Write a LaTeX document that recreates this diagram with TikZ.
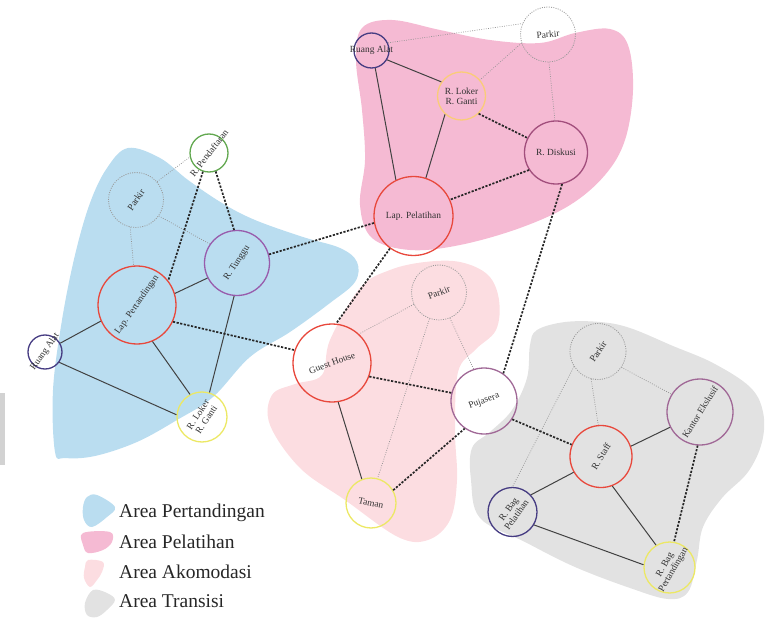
\documentclass[tikz,border=0pt]{standalone}
\usepackage{fontspec}
\setmainfont{Liberation Serif}
\definecolor{zoneblue}{RGB}{186,221,240}
\definecolor{zonepink}{RGB}{245,186,211}
\definecolor{zonerose}{RGB}{252,221,225}
\definecolor{zonegray}{RGB}{226,226,226}
\definecolor{cred}{RGB}{232,72,60}
\definecolor{cpurple}{RGB}{152,92,172}
\definecolor{cnavy}{RGB}{70,60,130}
\definecolor{cgreen}{RGB}{98,168,80}
\definecolor{cyellow}{RGB}{236,232,100}
\definecolor{corange}{RGB}{250,204,120}
\definecolor{cplum}{RGB}{162,78,124}
\definecolor{cmauve}{RGB}{160,104,150}
\definecolor{labelgray}{RGB}{50,50,50}
\definecolor{linkgray}{RGB}{65,65,65}
\begin{document}
\begin{tikzpicture}[x=1pt,y=-1pt,
  room/.style={circle, draw, line width=1.3pt, minimum size=#1, inner sep=0pt},
  parkir/.style={room=#1, draw=gray!80, line width=0.8pt, dash pattern=on 1pt off 1.3pt},
  lbl/.style={font=\fontsize{9.4}{9.8}\selectfont, text=labelgray, align=center, inner sep=0pt},
  solidlink/.style={draw=linkgray, line width=1pt},
  dashlink/.style={draw=black!85, line width=1.7pt, dash pattern=on 2.2pt off 1.5pt},
  dotlink/.style={draw=gray!85, line width=0.7pt, dash pattern=on 0.8pt off 1.5pt},
  legendtext/.style={font=\fontsize{19.5}{20}\selectfont, text=black!85, anchor=base west, inner sep=0pt}]
\useasboundingbox (0,0) rectangle (776,628);

% zones
\fill[zoneblue] plot[smooth cycle, tension=0.6] coordinates {
  (55,452) (53,390) (62,320) (75,255) (90,203) (107,168) (128,148) (160,158)
  (188,180) (222,203) (255,220) (303,237) (340,248) (357,262) (355,282)
  (330,303) (290,332) (250,357) (213,397) (177,420) (137,442) (95,456) (65,458)};
\fill[zonepink] plot[smooth cycle, tension=0.6] coordinates {
  (362,28) (392,20) (440,30) (490,40) (540,43) (575,33) (610,29) (628,45)
  (633,90) (625,140) (605,175) (570,205) (520,228) (460,245) (410,250)
  (372,238) (360,205) (365,160) (362,110) (356,60)};
\fill[zonerose] plot[smooth cycle, tension=0.6] coordinates {
  (360,288) (390,270) (425,262) (460,262) (488,275) (499,300) (496,330)
  (475,350) (458,372) (455,430) (457,480) (450,520) (428,540) (398,537)
  (345,500) (300,468) (270,425) (272,395) (295,384) (322,375) (330,340)};
\fill[zonegray] plot[smooth cycle, tension=0.6] coordinates {
  (537,330) (565,322) (600,322) (630,328) (673,346) (713,363) (750,387)
  (763,412) (762,442) (748,472) (722,498) (703,527) (697,560) (688,592)
  (668,599) (630,588) (575,567) (525,542) (480,518) (471,480) (472,448)
  (490,432) (512,410) (527,378) (530,345)};
\fill[gray!35] (0,393) rectangle (5,465);

% rooms: Area Pertandingan
\node[parkir=55pt] (bP) at (136,200) {};
\node[room=38pt, draw=cgreen] (bD) at (209,153) {};
\node[room=65pt, draw=cpurple] (bT) at (237,263) {};
\node[room=78pt, draw=cred] (bL) at (137,305) {};
\node[room=34pt, draw=cnavy] (bA) at (45,352) {};
\node[room=50pt, draw=cyellow] (bK) at (202,417) {};
% rooms: Area Pelatihan
\node[parkir=55pt] (pP) at (548,34.5) {};
\node[room=35pt, draw=cnavy] (pA) at (371.5,50.5) {};
\node[room=48pt, draw=corange] (pK) at (461.5,96) {};
\node[room=63pt, draw=cplum] (pD) at (556,152.5) {};
\node[room=79pt, draw=cred] (pL) at (413.5,216) {};
% rooms: Area Akomodasi
\node[parkir=55pt] (aP) at (439,292.5) {};
\node[room=78pt, draw=cred] (gh) at (332,363) {};
\node[room=66pt, draw=cmauve] (pj) at (484,401) {};
\node[room=50pt, draw=cyellow] (tm) at (371,503) {};
% rooms: Area Transisi
\node[parkir=56pt] (tP) at (598,351.5) {};
\node[room=66pt, draw=cmauve] (tK) at (700,412) {};
\node[room=62pt, draw=cred] (tS) at (601,456.5) {};
\node[room=49pt, draw=cnavy] (tB1) at (512.5,512) {};
\node[room=51pt, draw=cyellow] (tB2) at (669.5,567.5) {};

% links: Area Pertandingan
\draw[dotlink] (bP.41) -- (bD.192);
\draw[dotlink] (bP.325) -- (bT.145);
\draw[dotlink] (bP.258) -- (bL.95);
\draw[dashlink] (bD.252) -- (bL.38);
\draw[dashlink] (bD.290) -- (bT.95);
\draw[solidlink] (bT.207) -- (bL.17);
\draw[solidlink] (bT.265) -- (bK.73);
\draw[solidlink] (bL.204) -- (bA.30);
\draw[solidlink] (bL.293) -- (bK.118);
\draw[solidlink] (bA.324) -- (bK.175);
\draw[dashlink] (bL.335) -- (gh.161);
\draw[dashlink] (bT.15) -- (pL.190);
% links: Area Pelatihan
\draw[dotlink] (pA.25) -- (pP.157);
\draw[dotlink] (pP.198) -- (pK.41);
\draw[dotlink] (pP.272) -- (pD.92);
\draw[solidlink] (pA.329) -- (pK.145);
\draw[solidlink] (pA.282) -- (pL.116);
\draw[solidlink] (pK.228) -- (pL.72);
\draw[dashlink] (pK.314) -- (pD.153);
\draw[dashlink] (pD.213) -- (pL.24);
\draw[dashlink] (pL.234) -- (gh.84);
\draw[dashlink] (pD.281) -- (pj.55);
% links: Area Akomodasi
\draw[dotlink] (aP.205) -- (gh.47);
\draw[dotlink] (aP.250) -- (tm.75);
\draw[dotlink] (aP.293) -- (pj.108);
\draw[dashlink] (gh.340) -- (pj.166);
\draw[solidlink] (gh.279) -- (tm.111);
\draw[dashlink] (tm.30) -- (pj.235);
\draw[dashlink] (pj.327) -- (tS.158);
% links: Area Transisi
\draw[dotlink] (tP.212) -- (tB1.90);
\draw[dotlink] (tP.256) -- (tS.95);
\draw[dotlink] (tP.326) -- (tK.148);
\draw[solidlink] (tS.19) -- (tK.207);
\draw[solidlink] (tS.210) -- (tB1.43);
\draw[solidlink] (tS.291) -- (tB2.121);
\draw[solidlink] (tB1.329) -- (tB2.174);
\draw[dashlink] (tK.266) -- (tB2.80);

% labels
\node[lbl, rotate=55] (bPt) at (bP) {Parkir};
\node[lbl, rotate=52] (bDt) at (bD) {R. Pendaftaran};
\node[lbl, rotate=57] (bTt) at (bT) {R. Tunggu};
\node[lbl, rotate=55] (bLt) at (bL) {Lap. Pertandingan};
\node[lbl, rotate=55] (bAt) at (bA) {Ruang Alat};
\node[lbl, rotate=57] (bKt) at (bK) {R. Loker\\R. Ganti};
\node[lbl, rotate=5] (pPt) at (pP) {Parkir};
\node[lbl] (pAt) at (pA) {Ruang Alat};
\node[lbl] (pKt) at (pK) {R. Loker\\R. Ganti};
\node[lbl] (pDt) at (pD) {R. Diskusi};
\node[lbl] (pLt) at (pL) {Lap. Pelatihan};
\node[lbl, rotate=20] (aPt) at (aP) {Parkir};
\node[lbl, rotate=20] (ght) at (gh) {Guest House};
\node[lbl, rotate=20] (pjt) at (pj) {Pujasera};
\node[lbl, rotate=-12] (tmt) at (tm) {Taman};
\node[lbl, rotate=57] (tPt) at (tP) {Parkir};
\node[lbl, rotate=58] (tKt) at (tK) {Kantor Ekslusif};
\node[lbl, rotate=59] (tSt) at (tS) {R. Staff};
\node[lbl, rotate=55] (tB1t) at (tB1) {R. Bag\\Pelatihan};
\node[lbl, rotate=60] (tB2t) at (tB2) {R. Bag\\Pertandingan};

% legend
\fill[zoneblue] plot[smooth cycle, tension=0.6] coordinates {
  (87,497) (97,495) (115,507) (107,517) (92,527) (84,520) (83,507)};
\fill[zonepink] plot[smooth cycle, tension=0.6] coordinates {
  (83,533) (110,532) (112,542) (103,550) (88,553) (83,545)};
\fill[zonerose] plot[smooth cycle, tension=0.6] coordinates {
  (88,560) (103,562) (102,572) (97,580) (90,587) (84,578) (85,567)};
\fill[zonegray] plot[smooth cycle, tension=0.6] coordinates {
  (93,590) (107,593) (115,600) (107,610) (97,617) (87,615) (85,603)};
\node[legendtext] (lg1) at (119,517) {Area Pertandingan};
\node[legendtext] (lg2) at (119,548) {Area Pelatihan};
\node[legendtext] (lg3) at (119,578) {Area Akomodasi};
\node[legendtext] (lg4) at (119,607) {Area Transisi};
\end{tikzpicture}
\end{document}
